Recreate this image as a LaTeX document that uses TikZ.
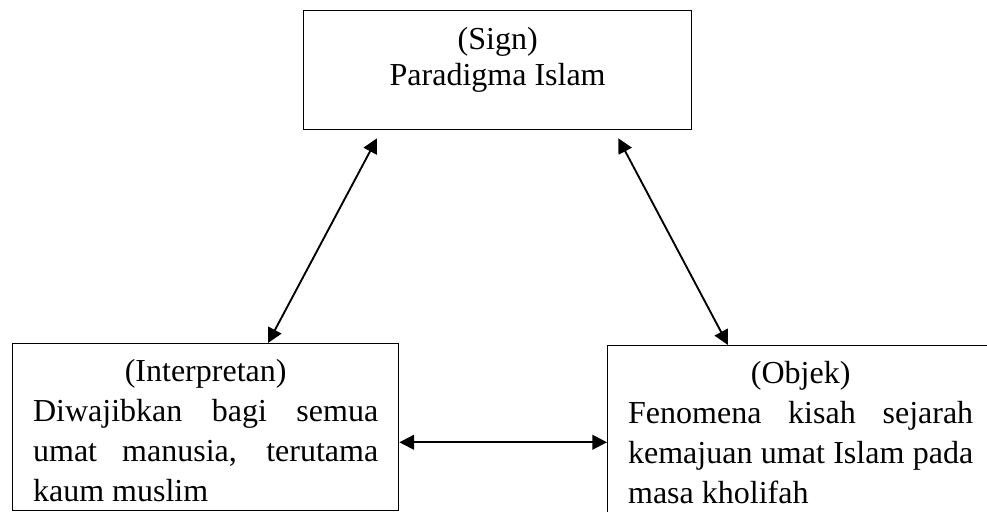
\documentclass[tikz,border=0pt]{standalone}
\usepackage{fontspec}
\setmainfont{Liberation Serif}
\usetikzlibrary{arrows.meta,calc,positioning}

\begin{document}
\begin{tikzpicture}[% one unit is one pixel of the page, y runs downwards
					x=0.375pt, y=-0.375pt,
					every node/.style={
						font=\fontsize{12}{15}\selectfont
						},
					frame/.style={rectangle,draw=black,line width=0.5pt,inner sep=0pt,anchor=north west},
					note/.style={inner sep=0pt,anchor=north,text width=129.4pt,align=justify},
					link/.style={>={Triangle[length=5.5pt,width=5.5pt]},<->,line width=0.7pt}
					]
\useasboundingbox (0,0) rectangle (987,511);
\clip (0,0) rectangle (987,511);
% the three boxes
\node[frame,minimum width=145.5pt,minimum height=44.6pt](sign) at (303,10) {};
\node[frame,minimum width=144.75pt,minimum height=62.6pt](interp) at (12,343) {};
\node[frame,minimum width=144.75pt,minimum height=62.6pt](objek) at (607,345) {};
% their texts
\node[inner sep=0pt,anchor=north,align=center,font=\fontsize{12}{13.5}\selectfont](signtext) at ($(sign.north)+(0,17)$) {(Sign)\\ Paradigma Islam};
\node[note](interptext) at ($(interp.north)+(0,16)$) {{\centering (Interpretan)\par}Diwajibkan bagi semua\linebreak umat manusia, terutama\linebreak kaum muslim};
\node[note](objektext) at ($(objek.north)+(0,16)$) {{\centering (Objek)\par}Fenomena kisah sejarah\linebreak kemajuan umat Islam pada\linebreak masa kholifah};
% arrows
\draw[link] ($(sign.south west)+(74,8)$) -- ($(interp.north west)+(256,0)$);
\draw[link] ($(sign.south east)+(-74,8)$) -- ($(objek.north west)+(121,0)$);
\draw[link] ($(interp.south east)+(0,-69)$) coordinate (h) -- (h -| objek.west);
\end{tikzpicture}
\end{document}
